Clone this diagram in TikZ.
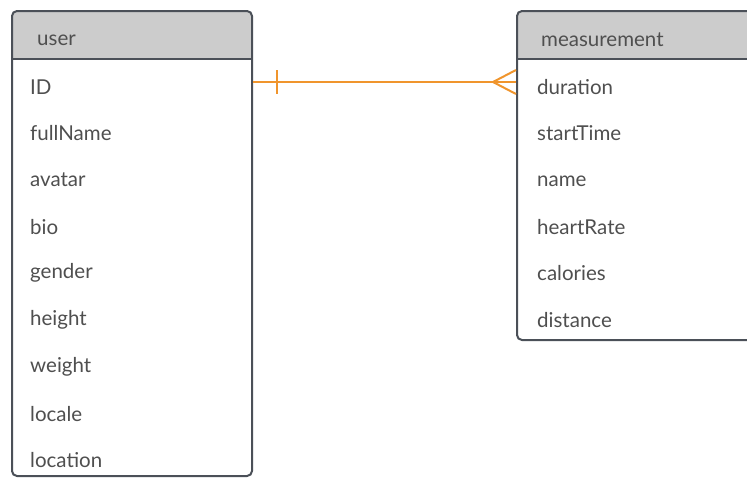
\documentclass[tikz,border=0pt]{standalone}
\usepackage{fontspec}
\usetikzlibrary{calc}
\setmainfont{Lato}
\definecolor{boxline}{HTML}{4B5058}
\definecolor{headfill}{HTML}{CCCCCC}
\definecolor{fieldtext}{HTML}{4F4F4F}
\definecolor{relline}{HTML}{F0952D}
\tikzset{
  x=1pt, y=-1pt,
  entity/.style={draw=boxline, line width=2pt, rounded corners=5pt},
  headtext/.style={anchor=west, inner sep=0pt, text=fieldtext, font=\fontsize{20.5}{22}\selectfont},
  fieldlabel/.style={anchor=west, inner sep=0pt, text=fieldtext, font=\fontsize{20.5}{22}\selectfont},
  rel/.style={draw=relline, line width=2pt},
}
\begin{document}
\begin{tikzpicture}
\useasboundingbox (0,0) rectangle (747,477);
\clip (0,0) rectangle (747,477);
% user table
\begin{scope}
  \clip[rounded corners=5pt] (12,11) rectangle (252,476);
  \fill[headfill] (12,11) rectangle (252,59);
  \fill[white] (12,59) rectangle (252,476);
\end{scope}
\draw[boxline, line width=2pt] (12,59) -- (252,59);
\draw[entity] (12,11) rectangle (252,476);
\node[headtext] (userhead) at (37,40) {user};
\foreach \name/\y [count=\i] in {ID/87,fullName/133,avatar/180,bio/227,gender/273,height/320,weight/367,locale/414,location/460}
  \node[fieldlabel] (u\i) at (30,\y) {\name};
% measurement table
\begin{scope}
  \clip[rounded corners=5pt] (517,11) rectangle (780,340);
  \fill[headfill] (517,11) rectangle (780,59);
  \fill[white] (517,59) rectangle (780,340);
\end{scope}
\draw[boxline, line width=2pt] (517,59) -- (780,59);
\draw[entity] (517,11) rectangle (780,340);
\node[headtext] (meashead) at (541,40) {measurement};
\foreach \name/\y [count=\i] in {duration/87,startTime/133,name/181,heartRate/227,calories/273,distance/320}
  \node[fieldlabel] (m\i) at (537,\y) {\name};
% one-to-many relation
\coordinate (relA) at (253,82);
\coordinate (relB) at (516,82);
\draw[rel] (relA) -- (relB);
\draw[rel] ($(relA)+(24,-12)$) -- ($(relA)+(24,12)$);
\draw[rel] ($(relB)+(0,-12)$) -- ($(relB)+(-23,0)$) -- ($(relB)+(0,12)$);
\end{tikzpicture}
\end{document}
